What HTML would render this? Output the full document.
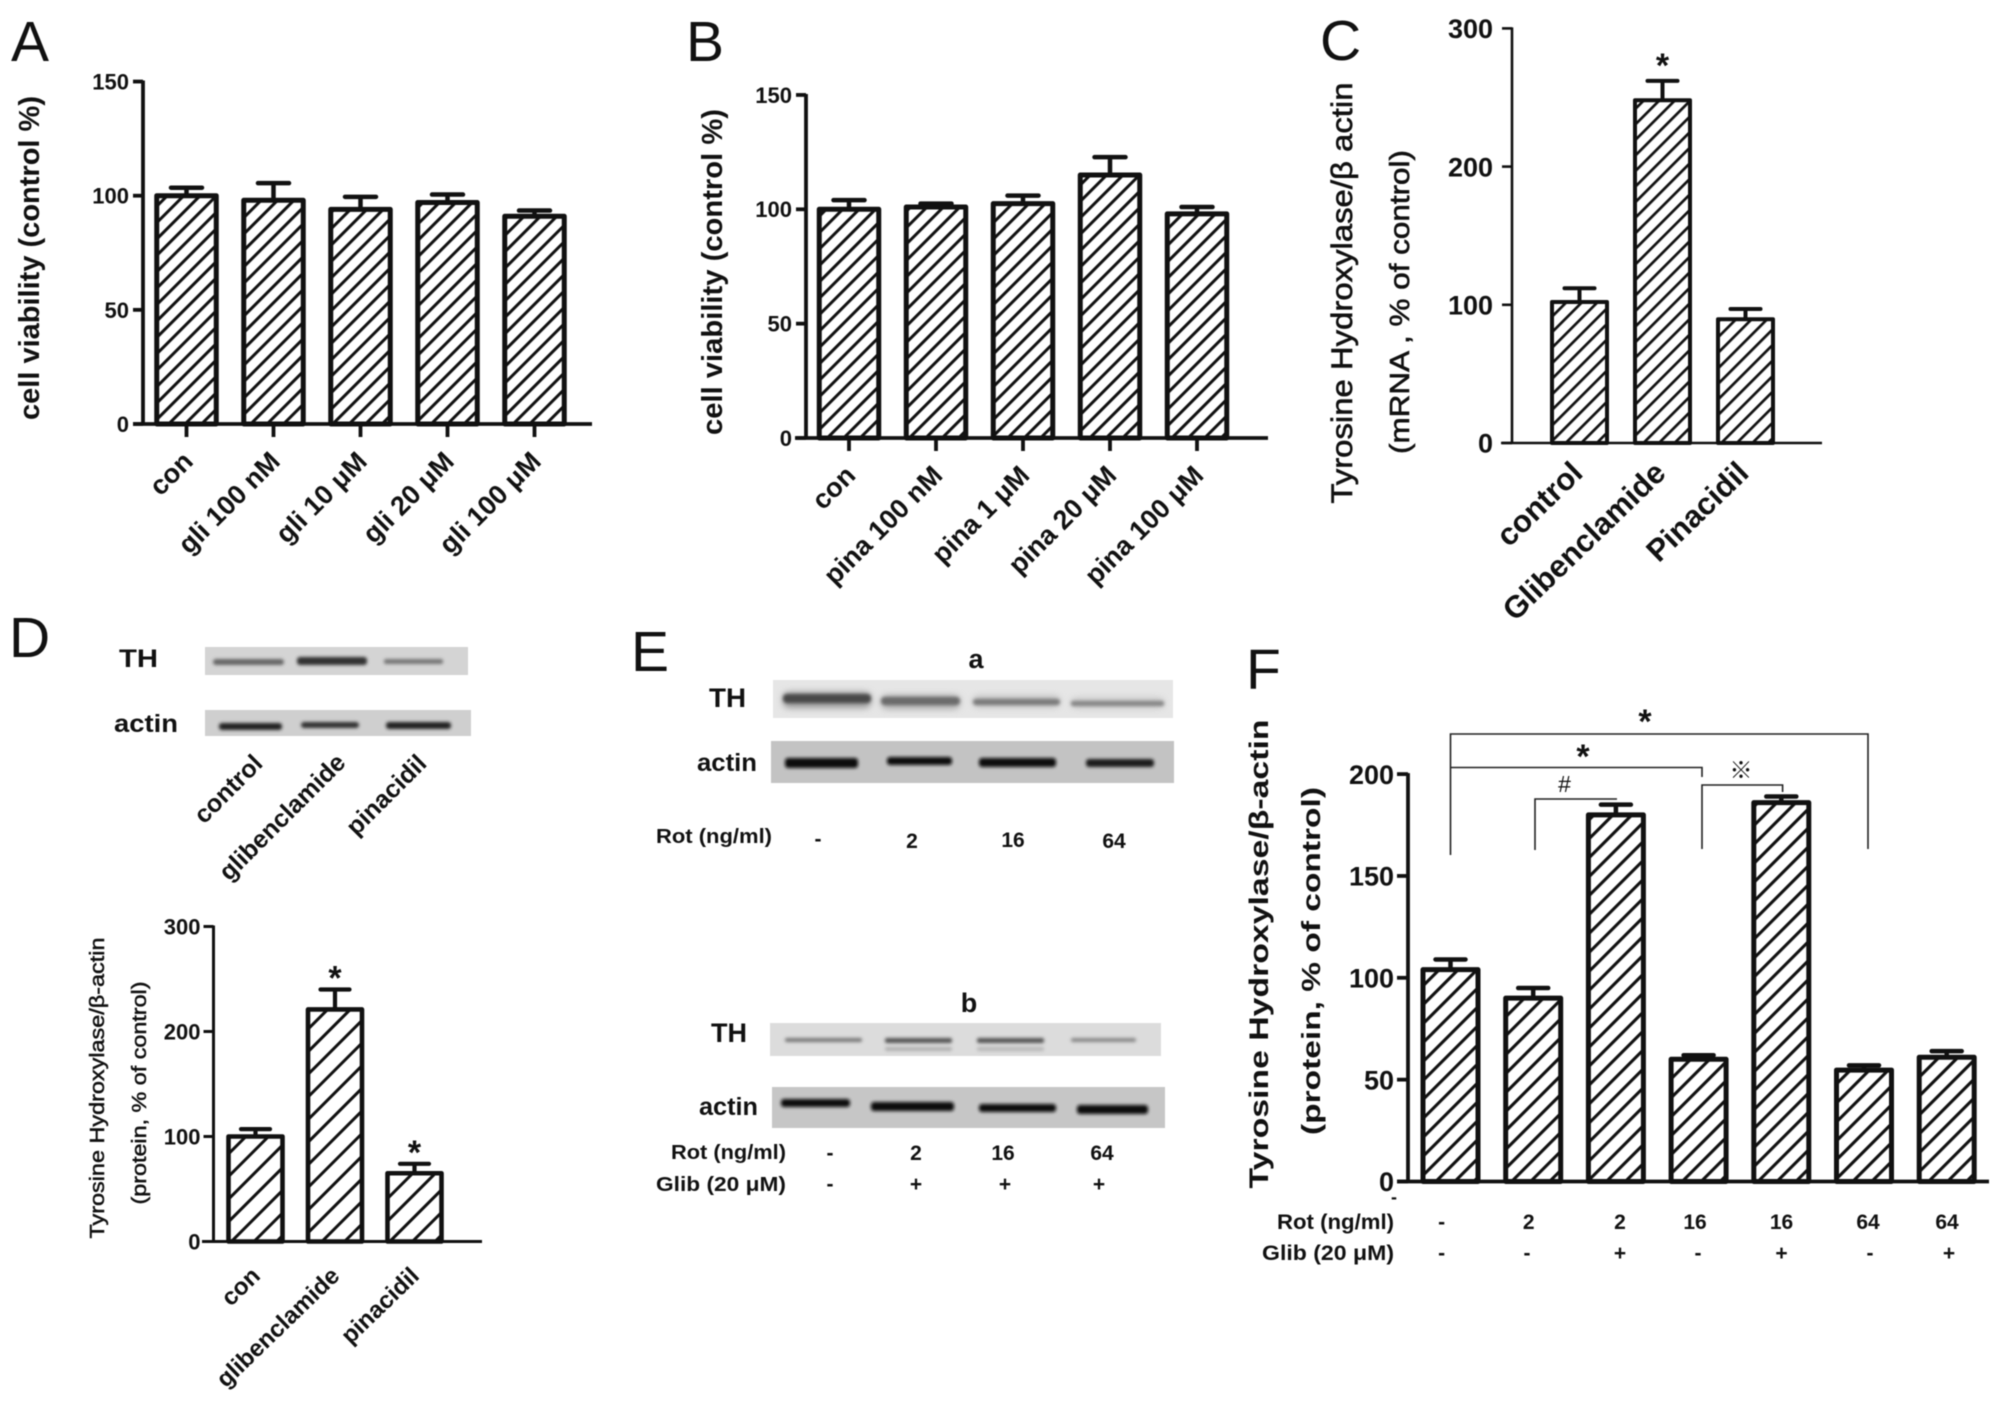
<!DOCTYPE html>
<html lang="en">
<head>
<meta charset="utf-8">
<title>Cell viability and tyrosine hydroxylase figure</title>
<style>
html,body{margin:0;padding:0;background:#fff;}
body{width:2008px;height:1405px;overflow:hidden;}
svg{display:block;filter:blur(0.55px);}
text{font-family:"Liberation Sans",sans-serif;fill:#111;}
.b{font-weight:bold;}
.pl{font-size:57px;fill:#111;}
.band{filter:url(#bandBlur);}
</style>
</head>
<body>
<svg id="figure" xmlns="http://www.w3.org/2000/svg" width="2008" height="1405" viewBox="0 0 2008 1405">
<defs>
<filter id="bandBlur" x="-20%" y="-100%" width="140%" height="300%"><feGaussianBlur stdDeviation="1.6"/></filter>
<filter id="softBlur" x="-20%" y="-100%" width="140%" height="300%"><feGaussianBlur stdDeviation="3.5"/></filter>
<pattern id="hatchA" patternUnits="userSpaceOnUse" width="11.6" height="11.6" patternTransform="rotate(45)"><rect width="11.6" height="11.6" fill="#fff"/><rect x="0" y="0" width="3" height="11.6" fill="#111"/></pattern>
<pattern id="hatchC" patternUnits="userSpaceOnUse" width="11" height="11" patternTransform="rotate(45)"><rect width="11" height="11" fill="#fff"/><rect x="0" y="0" width="2.7" height="11" fill="#111"/></pattern>
<pattern id="hatchD" patternUnits="userSpaceOnUse" width="16" height="16" patternTransform="rotate(45)"><rect width="16" height="16" fill="#fff"/><rect x="0" y="0" width="3" height="16" fill="#111"/></pattern>
<pattern id="hatchF" patternUnits="userSpaceOnUse" width="13.4" height="13.4" patternTransform="rotate(45)"><rect width="13.4" height="13.4" fill="#fff"/><rect x="0" y="0" width="3.1" height="13.4" fill="#111"/></pattern>
</defs>

<!-- Panel letters -->
<text class="pl" x="11" y="61">A</text>
<text class="pl" x="686" y="61">B</text>
<text class="pl" x="1320" y="60">C</text>
<text class="pl" x="9" y="657">D</text>
<text class="pl" x="631" y="671">E</text>
<text class="pl" x="1246" y="689">F</text>

<!-- Panel D blots -->
<g>
  <rect x="205" y="647" width="263" height="28" fill="#d4d4d4"/>
  <rect class="band" x="213" y="659" width="71" height="6" rx="3" fill="#666"/>
  <rect class="band" x="297" y="657" width="70" height="8" rx="3" fill="#333"/>
  <rect class="band" x="384" y="659" width="59" height="5" rx="2" fill="#777"/>
  <rect x="205" y="710" width="266" height="26" fill="#cfcfcf"/>
  <rect class="band" x="219" y="723" width="63" height="7" rx="3" fill="#222"/>
  <rect class="band" x="301" y="722" width="58" height="6" rx="3" fill="#333"/>
  <rect class="band" x="386" y="722" width="65" height="7" rx="3" fill="#222"/>
  <text class="b" x="119" y="667" font-size="25" textLength="39" lengthAdjust="spacingAndGlyphs">TH</text>
  <text class="b" x="114" y="732" font-size="25" textLength="64" lengthAdjust="spacingAndGlyphs">actin</text>
  <text class="b" font-size="25" text-anchor="end" transform="translate(264 765) rotate(-45)">control</text>
  <text class="b" font-size="25" text-anchor="end" transform="translate(347 764) rotate(-45)">glibenclamide</text>
  <text class="b" font-size="25" text-anchor="end" transform="translate(428 765) rotate(-45)">pinacidil</text>
</g>

<!-- Panel E blots -->
<g>
  <text class="b" x="976" y="668" font-size="27" text-anchor="middle">a</text>
  <rect x="773" y="680" width="400" height="38" fill="#e6e6e6"/>
  <rect x="783" y="692" width="88" height="16" rx="6" fill="#999" filter="url(#softBlur)"/>
  <rect x="881" y="695" width="79" height="14" rx="6" fill="#aaa" filter="url(#softBlur)"/>
  <rect x="973" y="696" width="87" height="11" rx="5" fill="#bbb" filter="url(#softBlur)"/>
  <rect x="1071" y="698" width="93" height="10" rx="5" fill="#c4c4c4" filter="url(#softBlur)"/>
  <rect class="band" x="783" y="694" width="88" height="9" rx="4" fill="#4a4a4a"/>
  <rect class="band" x="881" y="697" width="79" height="8" rx="4" fill="#6a6a6a"/>
  <rect class="band" x="973" y="699" width="87" height="6" rx="3" fill="#7a7a7a"/>
  <rect class="band" x="1071" y="701" width="93" height="5" rx="2" fill="#858585"/>
  <rect x="771" y="741" width="403" height="42" fill="#c3c3c3"/>
  <rect class="band" x="785" y="758" width="73" height="10" rx="3" fill="#0c0c0c"/>
  <rect class="band" x="887" y="757" width="65" height="8" rx="3" fill="#111"/>
  <rect class="band" x="979" y="758" width="77" height="9" rx="3" fill="#111"/>
  <rect class="band" x="1086" y="759" width="68" height="8" rx="3" fill="#1a1a1a"/>
  <text class="b" x="709" y="707" font-size="27" textLength="37" lengthAdjust="spacingAndGlyphs">TH</text>
  <text class="b" x="697" y="771" font-size="25" textLength="60" lengthAdjust="spacingAndGlyphs">actin</text>
  <text class="b" x="656" y="843" font-size="20" textLength="116" lengthAdjust="spacingAndGlyphs">Rot (ng/ml)</text>
  <text class="b" x="818" y="846" font-size="21" text-anchor="middle">-</text>
  <text class="b" x="912" y="848" font-size="21" text-anchor="middle">2</text>
  <text class="b" x="1013" y="847" font-size="21" text-anchor="middle">16</text>
  <text class="b" x="1114" y="848" font-size="21" text-anchor="middle">64</text>

  <text class="b" x="969" y="1012" font-size="27" text-anchor="middle">b</text>
  <rect x="770" y="1023" width="391" height="33" fill="#dcdcdc"/>
  <rect class="band" x="785" y="1038" width="77" height="4" rx="2" fill="#777"/>
  <rect class="band" x="885" y="1038" width="67" height="5" rx="2" fill="#555"/>
  <rect class="band" x="885" y="1047" width="67" height="4" rx="2" fill="#b0b0b0"/>
  <rect class="band" x="977" y="1038" width="67" height="5" rx="2" fill="#555"/>
  <rect class="band" x="977" y="1047" width="67" height="4" rx="2" fill="#b8b8b8"/>
  <rect class="band" x="1071" y="1038" width="65" height="4" rx="2" fill="#888"/>
  <rect x="772" y="1087" width="393" height="41" fill="#c6c6c6"/>
  <rect class="band" x="781" y="1099" width="69" height="8" rx="3" fill="#111"/>
  <rect class="band" x="871" y="1102" width="83" height="9" rx="3" fill="#0c0c0c"/>
  <rect class="band" x="979" y="1104" width="77" height="8" rx="3" fill="#111"/>
  <rect class="band" x="1077" y="1105" width="71" height="9" rx="3" fill="#0c0c0c"/>
  <text class="b" x="711" y="1042" font-size="27" textLength="36" lengthAdjust="spacingAndGlyphs">TH</text>
  <text class="b" x="699" y="1115" font-size="25" textLength="59" lengthAdjust="spacingAndGlyphs">actin</text>
  <text class="b" x="671" y="1159" font-size="20" textLength="115" lengthAdjust="spacingAndGlyphs">Rot (ng/ml)</text>
  <text class="b" x="830" y="1160" font-size="21" text-anchor="middle">-</text>
  <text class="b" x="916" y="1160" font-size="21" text-anchor="middle">2</text>
  <text class="b" x="1003" y="1160" font-size="21" text-anchor="middle">16</text>
  <text class="b" x="1102" y="1160" font-size="21" text-anchor="middle">64</text>
  <text class="b" x="656" y="1191" font-size="20" textLength="130" lengthAdjust="spacingAndGlyphs">Glib (20 μM)</text>
  <text class="b" x="830" y="1191" font-size="21" text-anchor="middle">-</text>
  <text class="b" x="916" y="1191" font-size="21" text-anchor="middle">+</text>
  <text class="b" x="1005" y="1191" font-size="21" text-anchor="middle">+</text>
  <text class="b" x="1099" y="1191" font-size="21" text-anchor="middle">+</text>
</g>

<!-- Panel F brackets and row labels -->
<g fill="none" stroke="#222" stroke-width="1.6">
  <path d="M1450.5 855V734H1868V849"/>
  <path d="M1450.5 767.5H1702V777"/>
  <path d="M1535 850V799H1617"/>
  <path d="M1702 849V785H1782.6V792"/>
</g>
<g>
  <text class="b" x="1645" y="733" font-size="34" text-anchor="middle">*</text>
  <text class="b" x="1583" y="768" font-size="34" text-anchor="middle">*</text>
  <text x="1564.5" y="792" font-size="23" text-anchor="middle">#</text>
  <text x="1741" y="778" font-size="23" text-anchor="middle" style="font-family:'Liberation Sans','Noto Sans CJK JP',sans-serif">※</text>
  <text class="b" x="1394" y="1203" font-size="18" text-anchor="middle">-</text>
  <text class="b" x="1394" y="1229" font-size="21" text-anchor="end" textLength="117" lengthAdjust="spacingAndGlyphs">Rot (ng/ml)</text>
  <text class="b" x="1441.6" y="1229" font-size="21" text-anchor="middle">-</text>
  <text class="b" x="1528.7" y="1229" font-size="21" text-anchor="middle">2</text>
  <text class="b" x="1620" y="1229" font-size="21" text-anchor="middle">2</text>
  <text class="b" x="1695" y="1229" font-size="21" text-anchor="middle">16</text>
  <text class="b" x="1781.5" y="1229" font-size="21" text-anchor="middle">16</text>
  <text class="b" x="1868" y="1229" font-size="21" text-anchor="middle">64</text>
  <text class="b" x="1947" y="1229" font-size="21" text-anchor="middle">64</text>
  <text class="b" x="1394" y="1260" font-size="21" text-anchor="end" textLength="132" lengthAdjust="spacingAndGlyphs">Glib (20 μM)</text>
  <text class="b" x="1441.6" y="1260" font-size="21" text-anchor="middle">-</text>
  <text class="b" x="1527" y="1260" font-size="21" text-anchor="middle">-</text>
  <text class="b" x="1620" y="1260" font-size="21" text-anchor="middle">+</text>
  <text class="b" x="1698" y="1260" font-size="21" text-anchor="middle">-</text>
  <text class="b" x="1781.5" y="1260" font-size="21" text-anchor="middle">+</text>
  <text class="b" x="1870" y="1260" font-size="21" text-anchor="middle">-</text>
  <text class="b" x="1949" y="1260" font-size="21" text-anchor="middle">+</text>
</g>

<g id="charts"></g>
</svg>

<script>
// Panel A
const aCategories = ['con', 'gli 100 nM', 'gli 10 μM', 'gli 20  μM', 'gli 100 μM'];
const aValues = [100, 98, 94, 97, 91];
const aErrorTops = [103.5, 105.5, 99.5, 100.5, 93.5];
const aTicks = [0, 50, 100, 150];
const aTitles = ['cell viability (control %)'];
// Panel B
const bCategories = ['con', 'pina 100 nM', 'pina 1 μM', 'pina 20 μM', 'pina 100 μM'];
const bValues = [100, 101, 102.5, 115, 98];
const bErrorTops = [104, 102.5, 106, 122.8, 101];
const bTicks = [0, 50, 100, 150];
const bTitles = ['cell viability (control %)'];
// Panel C
const cCategories = ['control', 'Glibenclamide', 'Pinacidil'];
const cValues = [102, 248, 89.5];
const cErrorTops = [112, 262, 97];
const cTicks = [0, 100, 200, 300];
const cMarkers = ['', '*', ''];
const cTitles = ['Tyrosine Hydroxylase/β actin', '(mRNA , % of control)'];
// Panel D
const dCategories = ['con', 'glibenclamide', 'pinacidil'];
const dValues = [100, 221, 65];
const dErrorTops = [107, 240, 74];
const dTicks = [0, 100, 200, 300];
const dMarkers = ['', '*', '*'];
const dTitles = ['Tyrosine Hydroxylase/β-actin', '(protein,  % of control)'];
// Panel F
const fCategories = ['a', 'b', 'c', 'd', 'e', 'f', 'g'];
const fValues = [104, 90, 180, 60, 186, 54.7, 61];
const fErrorTops = [109, 95, 185, 62, 189, 57, 64];
const fTicks = [0, 50, 100, 150, 200];
const fTitles = ['Tyrosine Hydroxylase/β-actin', '(protein,  % of control)'];

const SVG_NS = 'http://www.w3.org/2000/svg';
const chartsRoot = document.getElementById('charts');

function make(tag, attrs, parent) {
  const el = document.createElementNS(SVG_NS, tag);
  for (const k in attrs) el.setAttribute(k, attrs[k]);
  parent.appendChild(el);
  return el;
}

function drawChart(panel, layout, categories, values, errorTops, ticks, titles, markers) {
  const g = make('g', {}, chartsRoot);
  
  

  const yScale = v => layout.y0 - (v - layout.domainMin) * layout.pxPerUnit;
  const xScale = i => layout.firstCenter + i * layout.step;

  values.forEach((v, i) => {
    const cx = xScale(i);
    const top = yScale(v);
    const errTop = yScale(errorTops[i]);

    const errLine = make('line', { x1: cx, x2: cx, y1: top, y2: errTop, stroke: '#111', 'stroke-width': layout.errWidth }, g);
    
    

    const cap = make('line', { x1: cx - layout.capWidth / 2, x2: cx + layout.capWidth / 2, y1: errTop, y2: errTop, stroke: '#111', 'stroke-width': layout.errWidth, 'stroke-linecap': 'round' }, g);
    
    

    const bar = make('rect', { x: cx - layout.barWidth / 2, y: top, width: layout.barWidth, height: layout.y0 - top, fill: 'url(#' + layout.hatch + ')', stroke: '#111', 'stroke-width': layout.barStroke, 'stroke-linejoin': 'round' }, g);
    
    

    if (markers && markers[i]) {
      const star = make('text', { x: cx, y: errTop - layout.markerGap, 'font-size': layout.markerSize, 'text-anchor': 'middle', 'font-weight': 'bold' }, g);
      star.textContent = markers[i];
      
      
    }

    if (layout.showCategoryLabels) {
      const ax = cx + layout.labelDx;
      const ay = layout.y0 + layout.labelDy;
      const lab = make('text', { 'font-size': layout.labelSize, 'font-weight': 'bold', 'text-anchor': 'end', transform: 'translate(' + ax + ' ' + ay + ') rotate(' + layout.labelAngle + ')' }, g);
      lab.textContent = categories[i];
      
      
    }

    if (layout.xTickLength) {
      const t = make('line', { x1: cx, x2: cx, y1: layout.y0, y2: layout.y0 + layout.xTickLength, stroke: '#111', 'stroke-width': layout.axisWidth }, g);
      
      
    }
  });

  const yAxis = make('line', { x1: layout.axisX, x2: layout.axisX, y1: yScale(ticks[ticks.length - 1]) - 1, y2: layout.y0 + 1, stroke: '#111', 'stroke-width': layout.axisWidth }, g);
  
  

  const xAxis = make('line', { x1: layout.xAxisStart, x2: layout.xAxisEnd, y1: layout.y0, y2: layout.y0, stroke: '#111', 'stroke-width': layout.axisWidth }, g);
  
  

  ticks.forEach(tv => {
    const ty = yScale(tv);
    const t = make('line', { x1: layout.axisX - layout.yTickLength, x2: layout.axisX, y1: ty, y2: ty, stroke: '#111', 'stroke-width': layout.axisWidth }, g);
    
    

    const lab = make('text', { x: layout.axisX - layout.yTickLength - layout.tickGap, y: ty + layout.tickSize * 0.36, 'font-size': layout.tickSize, 'font-weight': 'bold', 'text-anchor': 'end' }, g);
    lab.textContent = String(tv);
    
    
  });

  titles.forEach((txt, i) => {
    const spec = layout.titleSpecs[i];
    const ty = make('text', { 'font-size': spec.size, 'font-weight': spec.weight, 'text-anchor': 'middle', textLength: spec.length, lengthAdjust: 'spacingAndGlyphs', stroke: '#111', 'stroke-width': spec.heavy, transform: 'translate(' + spec.x + ' ' + spec.y + ') rotate(-90)' }, g);
    ty.textContent = txt;
    
    
  });
}

const aLayout = { axisX: 143, y0: 424, domainMin: 0, pxPerUnit: 2.283, firstCenter: 186.5, step: 87, barWidth: 59.5, barStroke: 5, hatch: 'hatchA', errWidth: 4.5, capWidth: 31, axisWidth: 3.8, xAxisStart: 133, xAxisEnd: 592, yTickLength: 10, tickGap: 4, tickSize: 22, xTickLength: 13, labelDx: 8, labelDy: 39, labelSize: 27, labelAngle: -45, showCategoryLabels: true, titleSpecs: [{ x: 39, y: 258, size: 29, weight: 'bold', length: 324, heavy: 0 }] };
const bLayout = { axisX: 806, y0: 438, domainMin: 0, pxPerUnit: 2.287, firstCenter: 849, step: 87, barWidth: 59.5, barStroke: 5, hatch: 'hatchA', errWidth: 4.5, capWidth: 31, axisWidth: 3.8, xAxisStart: 795, xAxisEnd: 1268, yTickLength: 10, tickGap: 4, tickSize: 22, xTickLength: 13, labelDx: 8, labelDy: 39, labelSize: 27, labelAngle: -45, showCategoryLabels: true, titleSpecs: [{ x: 722, y: 272, size: 29, weight: 'bold', length: 326, heavy: 0 }] };
const cLayout = { axisX: 1512, y0: 443, domainMin: 0, pxPerUnit: 1.382, firstCenter: 1579.5, step: 83, barWidth: 55, barStroke: 4, hatch: 'hatchC', errWidth: 4, capWidth: 30, axisWidth: 2.6, xAxisStart: 1501, xAxisEnd: 1822, yTickLength: 10, tickGap: 9, tickSize: 27, xTickLength: 0, labelDx: 5, labelDy: 32, labelSize: 31, labelAngle: -44, showCategoryLabels: true, markerGap: 4, markerSize: 34, titleSpecs: [{ x: 1352, y: 293, size: 30, weight: 'normal', length: 421, heavy: 0.6 }, { x: 1409, y: 302, size: 28, weight: 'normal', length: 304, heavy: 0.6 }] };
const dLayout = { axisX: 213.5, y0: 1241.5, domainMin: 0, pxPerUnit: 1.05, firstCenter: 255.5, step: 79.5, barWidth: 54, barStroke: 4.6, hatch: 'hatchD', errWidth: 4.2, capWidth: 29, axisWidth: 3, xAxisStart: 202, xAxisEnd: 482, yTickLength: 10, tickGap: 3, tickSize: 22, xTickLength: 0, labelDx: 6, labelDy: 36, labelSize: 24, labelAngle: -44, showCategoryLabels: true, markerGap: 0, markerSize: 34, titleSpecs: [{ x: 104, y: 1088, size: 20, weight: 'normal', length: 301, heavy: 0.5 }, { x: 146, y: 1093, size: 20, weight: 'normal', length: 223, heavy: 0.5 }] };
const fLayout = { axisX: 1408, y0: 1181.5, domainMin: 0, pxPerUnit: 2.037, firstCenter: 1450.5, step: 82.7, barWidth: 55, barStroke: 5, hatch: 'hatchF', errWidth: 4.5, capWidth: 30, axisWidth: 3.8, xAxisStart: 1397, xAxisEnd: 1989, yTickLength: 11, tickGap: 3, tickSize: 27, xTickLength: 0, showCategoryLabels: false, titleSpecs: [{ x: 1268, y: 954, size: 27, weight: 'bold', length: 469, heavy: 0 }, { x: 1320, y: 961, size: 26, weight: 'bold', length: 348, heavy: 0 }] };

drawChart('a', aLayout, aCategories, aValues, aErrorTops, aTicks, aTitles);
drawChart('b', bLayout, bCategories, bValues, bErrorTops, bTicks, bTitles);
drawChart('c', cLayout, cCategories, cValues, cErrorTops, cTicks, cTitles, cMarkers);
drawChart('d', dLayout, dCategories, dValues, dErrorTops, dTicks, dTitles, dMarkers);
drawChart('f', fLayout, fCategories, fValues, fErrorTops, fTicks, fTitles);
</script>
</body>
</html>
